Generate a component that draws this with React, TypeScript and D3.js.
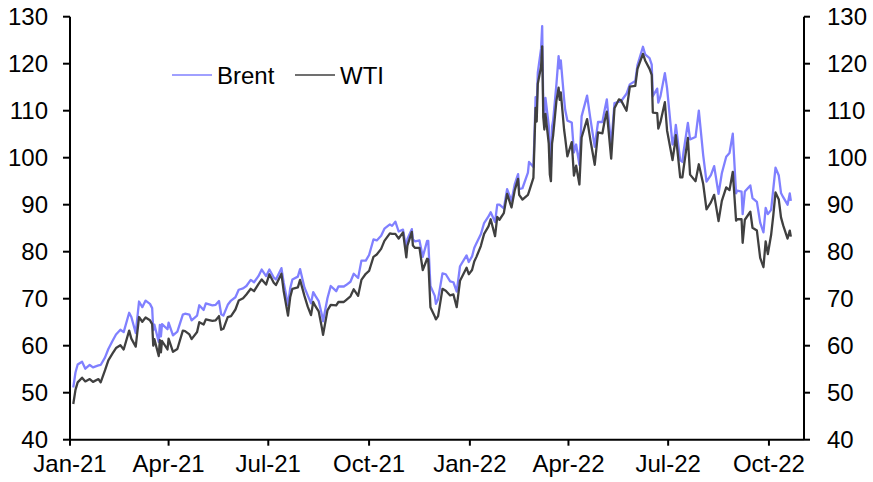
import React from "react";
import * as d3 from "d3";

// trading dates (approx. every few sessions)
const dates = [
  "2021-01-04", "2021-01-06", "2021-01-08", "2021-01-12", "2021-01-15", "2021-01-19", "2021-01-22", "2021-01-27", "2021-01-29",
  "2021-02-02", "2021-02-05", "2021-02-09", "2021-02-12", "2021-02-16", "2021-02-19", "2021-02-24", "2021-02-26",
  "2021-03-02", "2021-03-05", "2021-03-08", "2021-03-11", "2021-03-15", "2021-03-17", "2021-03-18", "2021-03-19", "2021-03-23",
  "2021-03-24", "2021-03-25", "2021-03-26", "2021-03-31", "2021-04-01", "2021-04-05", "2021-04-09", "2021-04-14", "2021-04-16",
  "2021-04-20", "2021-04-22", "2021-04-27", "2021-04-29", "2021-05-03", "2021-05-05", "2021-05-11", "2021-05-14", "2021-05-17",
  "2021-05-19", "2021-05-21", "2021-05-25", "2021-05-28", "2021-06-01", "2021-06-04", "2021-06-08", "2021-06-11", "2021-06-15",
  "2021-06-18", "2021-06-22", "2021-06-25", "2021-06-29", "2021-07-02", "2021-07-06", "2021-07-08", "2021-07-13", "2021-07-15",
  "2021-07-19", "2021-07-21", "2021-07-23", "2021-07-28", "2021-07-30", "2021-08-03", "2021-08-06", "2021-08-09", "2021-08-11",
  "2021-08-13", "2021-08-16", "2021-08-19", "2021-08-20", "2021-08-24", "2021-08-27", "2021-09-01", "2021-09-03", "2021-09-08",
  "2021-09-10", "2021-09-14", "2021-09-17", "2021-09-21", "2021-09-24", "2021-09-28", "2021-10-01", "2021-10-05", "2021-10-08",
  "2021-10-12", "2021-10-15", "2021-10-20", "2021-10-22", "2021-10-25", "2021-10-28", "2021-11-01", "2021-11-04", "2021-11-05",
  "2021-11-09", "2021-11-10", "2021-11-12", "2021-11-16", "2021-11-19", "2021-11-23", "2021-11-24", "2021-11-26", "2021-11-30",
  "2021-12-01", "2021-12-03", "2021-12-07", "2021-12-10", "2021-12-14", "2021-12-17", "2021-12-20", "2021-12-23", "2021-12-29",
  "2021-12-31",
  "2022-01-03", "2022-01-05", "2022-01-07", "2022-01-11", "2022-01-14", "2022-01-18", "2022-01-20", "2022-01-24", "2022-01-26",
  "2022-01-28", "2022-02-01", "2022-02-04", "2022-02-08", "2022-02-11", "2022-02-14", "2022-02-15", "2022-02-18", "2022-02-23",
  "2022-02-24", "2022-02-28", "2022-03-01", "2022-03-02", "2022-03-03", "2022-03-04", "2022-03-07", "2022-03-08", "2022-03-09",
  "2022-03-10", "2022-03-11", "2022-03-14", "2022-03-15", "2022-03-16", "2022-03-17", "2022-03-18", "2022-03-21", "2022-03-23",
  "2022-03-24", "2022-03-25", "2022-03-28", "2022-03-29", "2022-03-31", "2022-04-04", "2022-04-06", "2022-04-08", "2022-04-11",
  "2022-04-13", "2022-04-18", "2022-04-21", "2022-04-25", "2022-04-28", "2022-05-02", "2022-05-04", "2022-05-06", "2022-05-10",
  "2022-05-13", "2022-05-17", "2022-05-19", "2022-05-24", "2022-05-27", "2022-06-01", "2022-06-03", "2022-06-08", "2022-06-10",
  "2022-06-14", "2022-06-16", "2022-06-17", "2022-06-21", "2022-06-22", "2022-06-24", "2022-06-28", "2022-06-30", "2022-07-05",
  "2022-07-07", "2022-07-08", "2022-07-12", "2022-07-14", "2022-07-15", "2022-07-19", "2022-07-21", "2022-07-26", "2022-07-29",
  "2022-08-02", "2022-08-05", "2022-08-09", "2022-08-12", "2022-08-16", "2022-08-19", "2022-08-23", "2022-08-26", "2022-08-29",
  "2022-09-01", "2022-09-02", "2022-09-06", "2022-09-07", "2022-09-09", "2022-09-14", "2022-09-16", "2022-09-20", "2022-09-23",
  "2022-09-26", "2022-09-28", "2022-09-30", "2022-10-03", "2022-10-05", "2022-10-07", "2022-10-10", "2022-10-12", "2022-10-14",
  "2022-10-18", "2022-10-20", "2022-10-21",
];

const brent = [
  51.1, 54.3, 56.0, 56.6, 55.1, 55.9, 55.4, 55.8, 55.9,
  57.5, 59.3, 61.1, 62.4, 63.4, 62.9, 67.0, 66.1,
  62.7, 69.4, 68.2, 69.6, 68.9, 68.0, 63.3, 64.5, 60.8,
  64.4, 62.0, 64.6, 63.5, 64.9, 62.2, 63.0, 66.6, 66.8,
  66.6, 65.4, 66.4, 68.6, 67.6, 69.0, 68.6, 68.7, 69.5,
  66.7, 66.4, 68.7, 69.6, 70.3, 71.9, 72.2, 72.7, 74.0,
  73.5, 74.8, 76.2, 74.8, 76.2, 74.5, 74.1, 76.5, 73.5,
  68.6, 72.2, 74.1, 74.7, 76.3, 72.4, 70.7, 69.0, 71.4,
  70.6, 69.5, 66.5, 65.2, 70.1, 72.7, 71.6, 72.6, 72.6,
  72.9, 73.6, 75.3, 74.4, 78.1, 78.1, 79.3, 82.6, 82.4,
  83.4, 84.9, 85.8, 85.5, 86.4, 84.3, 84.7, 80.5, 82.7,
  84.8, 82.6, 82.2, 82.4, 78.9, 82.3, 82.3, 72.7, 70.6,
  68.9, 69.9, 75.4, 75.2, 73.7, 73.5, 71.5, 76.9, 79.2,
  77.8,
  79.0, 80.8, 81.8, 83.7, 86.1, 87.5, 88.4, 86.3, 90.0,
  90.0, 89.2, 93.3, 90.8, 94.4, 96.5, 93.3, 93.5, 96.8,
  99.1, 98.0, 105.0, 112.9, 110.5, 118.1, 123.2, 128.0, 111.1,
  109.3, 112.7, 106.9, 99.9, 98.0, 106.6, 107.9, 115.6, 121.6,
  119.0, 120.7, 112.5, 110.2, 107.9, 107.5, 101.1, 102.8, 98.5,
  108.8, 113.2, 108.3, 102.3, 107.6, 107.6, 110.1, 112.4, 102.5,
  111.6, 111.9, 112.0, 113.6, 115.6, 116.3, 119.7, 123.6, 122.0,
  121.2, 119.8, 113.1, 114.7, 111.7, 113.1, 118.0, 114.8, 102.8,
  104.7, 107.0, 99.5, 99.1, 101.2, 107.4, 103.9, 104.4, 110.0,
  100.5, 94.9, 96.3, 98.2, 92.3, 96.7, 100.2, 101.0, 105.1,
  92.4, 93.0, 92.8, 88.0, 92.8, 94.1, 91.4, 90.6, 86.2,
  84.1, 89.3, 88.0, 88.9, 93.4, 97.9, 96.2, 92.5, 91.6,
  90.0, 92.4, 90.8,
];

const wti = [
  47.6, 50.6, 52.2, 53.2, 52.4, 52.9, 52.3, 52.9, 52.2,
  54.8, 56.9, 58.4, 59.5, 60.1, 59.2, 63.2, 61.5,
  59.8, 66.1, 65.1, 66.0, 65.4, 64.6, 60.0, 61.4, 57.8,
  61.2, 58.6, 61.0, 59.2, 61.5, 58.7, 59.3, 63.2, 63.1,
  62.4, 61.4, 62.9, 65.0, 64.5, 65.6, 65.3, 65.4, 66.3,
  63.4, 63.6, 66.1, 66.3, 67.7, 69.6, 70.1, 70.9, 72.1,
  71.6, 73.1, 74.1, 73.0, 75.2, 73.4, 72.9, 75.3, 71.7,
  66.4, 70.3, 72.1, 72.4, 74.0, 70.6, 68.3, 66.5, 69.3,
  68.4, 67.3, 63.7, 62.3, 67.5, 68.7, 68.6, 69.3, 69.3,
  69.7, 70.5, 72.0, 70.6, 74.0, 75.3, 75.9, 78.9, 79.4,
  80.6, 82.3, 83.9, 83.8, 83.8, 82.8, 84.1, 78.8, 81.3,
  84.2, 81.3, 80.8, 80.8, 76.1, 78.5, 78.4, 68.2, 66.2,
  65.6, 66.3, 72.1, 71.7, 70.7, 70.9, 68.2, 73.8, 76.6,
  75.2,
  76.1, 77.9, 78.9, 81.2, 83.8, 85.4, 86.9, 83.3, 87.4,
  86.8, 88.2, 92.3, 89.4, 93.1, 95.5, 92.1, 91.1, 92.1,
  92.8, 95.7, 103.4, 110.6, 107.7, 115.7, 119.4, 123.7, 108.7,
  106.0, 109.3, 103.0, 96.4, 95.0, 103.0, 104.7, 112.1, 114.9,
  112.3, 113.9, 106.0, 104.2, 100.3, 103.3, 96.2, 98.3, 94.3,
  104.3, 108.2, 103.8, 98.5, 105.4, 105.2, 107.8, 109.8, 99.8,
  110.5, 112.4, 112.2, 110.0, 115.1, 115.3, 118.9, 122.1, 120.7,
  118.9, 117.6, 109.6, 109.5, 106.2, 107.6, 111.8, 105.8, 99.5,
  102.7, 104.8, 95.8, 95.8, 97.6, 104.2, 96.4, 95.0, 98.6,
  94.4, 89.0, 90.5, 92.1, 86.5, 90.8, 93.7, 93.1, 97.0,
  86.6, 86.9, 86.9, 81.9, 86.8, 88.5, 85.1, 84.5, 78.7,
  76.7, 82.2, 79.5, 83.6, 87.8, 92.6, 91.1, 87.3, 85.6,
  82.8, 84.5, 83.2,
];

const yTicks = [40, 50, 60, 70, 80, 90, 100, 110, 120, 130];
const xTickLabels = ["Jan-21", "Apr-21", "Jul-21", "Oct-21", "Jan-22", "Apr-22", "Jul-22", "Oct-22"];
const xTickDates = ["2021-01-01", "2021-04-01", "2021-07-01", "2021-10-01", "2022-01-01", "2022-04-01", "2022-07-01", "2022-10-01"];

const W = 873;
const H = 482;
const FONT = "Arial, 'Liberation Sans', sans-serif";

export default function App() {
  const parse = d3.utcParse("%Y-%m-%d");
  const x = d3
    .scaleUtc()
    .domain([parse("2021-01-01")!, parse("2022-11-02")!])
    .range([70, 804]);
  const y = d3.scaleLinear().domain([40, 130]).range([439.7, 16.7]);

  const brentPts = dates.map((d, i) => [parse(d)!, brent[i]] as [Date, number]);
  const wtiPts = dates.map((d, i) => [parse(d)!, wti[i]] as [Date, number]);

  const line = d3
    .line<[Date, number]>()
    .x((d) => x(d[0]))
    .y((d) => y(d[1]));

  const [x0, x1] = x.range();
  const [yb, yt] = y.range();

  return (
    <svg
      width={W}
      height={H}
      style={{ position: "absolute", left: 0, top: 0, background: "#fff" }}
      fontFamily={FONT}
    >
      {/* series */}
      <path d={line(brentPts) || ""} fill="none" stroke="#8080ff" strokeWidth={2.3} strokeLinejoin="round" />
      <path d={line(wtiPts) || ""} fill="none" stroke="#404040" strokeWidth={2.3} strokeLinejoin="round" />

      {/* left axis */}
      <line x1={x0} x2={x0} y1={yt} y2={yb} stroke="#000" strokeWidth={2} />
      {yTicks.map((t) => (
        <g key={"l" + t}>
          <line x1={x0 - 7} x2={x0} y1={y(t)} y2={y(t)} stroke="#000" strokeWidth={2} />
          <text x={48} y={y(t)} dy="0.36em" textAnchor="end" fontSize={24}>
            {t}
          </text>
        </g>
      ))}

      {/* right axis */}
      <line x1={x1} x2={x1} y1={yt} y2={yb} stroke="#000" strokeWidth={2} />
      {yTicks.map((t) => (
        <g key={"r" + t}>
          <line x1={x1} x2={x1 + 6} y1={y(t)} y2={y(t)} stroke="#000" strokeWidth={2} />
          <text x={827} y={y(t)} dy="0.36em" textAnchor="start" fontSize={24}>
            {t}
          </text>
        </g>
      ))}

      {/* x axis */}
      <line x1={x0} x2={x1} y1={yb} y2={yb} stroke="#000" strokeWidth={2} />
      {xTickDates.map((d, i) => {
        const px = x(parse(d)!);
        return (
          <g key={d}>
            <line x1={px} x2={px} y1={yb} y2={yb + 6} stroke="#000" strokeWidth={2} />
            <text x={px} y={472} textAnchor="middle" fontSize={24}>
              {xTickLabels[i]}
            </text>
          </g>
        );
      })}

      {/* legend */}
      <line x1={172} x2={212} y1={75} y2={75} stroke="#8080ff" strokeWidth={1.5} />
      <text x={217} y={75} dy="0.36em" fontSize={24}>Brent</text>
      <line x1={295} x2={335} y1={75} y2={75} stroke="#404040" strokeWidth={1.5} />
      <text x={340} y={75} dy="0.36em" fontSize={24}>WTI</text>
    </svg>
  );
}
